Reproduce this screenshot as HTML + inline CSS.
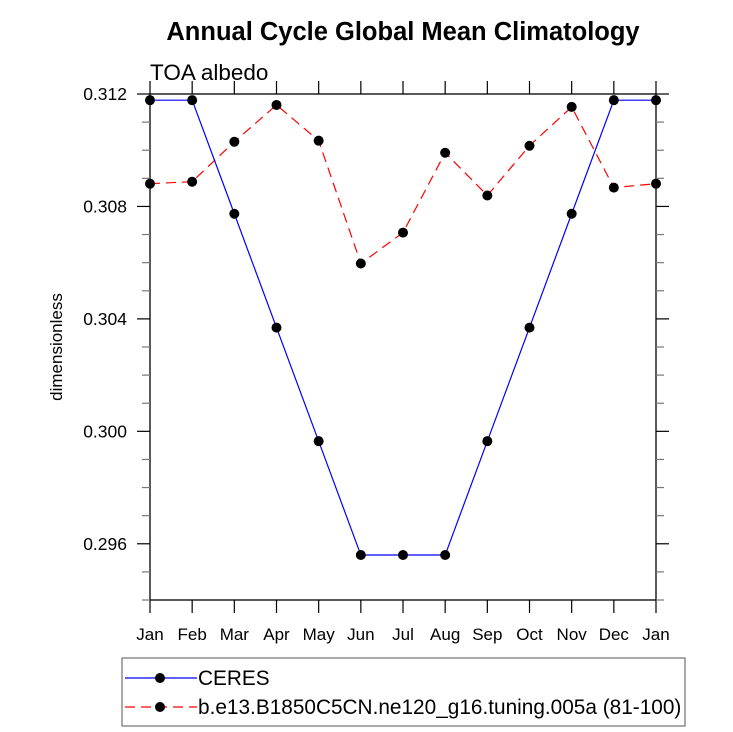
<!DOCTYPE html>
<html><head><meta charset="utf-8"><style>
body{margin:0;background:#fff}
svg{display:block;font-family:"Liberation Sans",Arial,sans-serif}
</style></head><body>
<svg id="c" width="733" height="732" viewBox="0 0 733 732">
<text x="403" y="40" text-anchor="middle" font-size="25.5" font-weight="bold">Annual Cycle Global Mean Climatology</text>
<text x="150" y="80" font-size="22.5">TOA albedo</text>
<text transform="translate(62,347) rotate(-90)" text-anchor="middle" font-size="17">dimensionless</text>
<g id="axes"></g>
<g id="series"></g>
<rect x="122" y="658" width="563" height="68" fill="none" stroke="#555" stroke-width="1"/>
<g>
<line x1="125" y1="678" x2="197" y2="678" stroke="#0000ff" stroke-width="1.2"/>
<circle cx="160" cy="678" r="5" fill="#000"/>
<text x="198" y="685" font-size="20.8">CERES</text></g>
<g>
<line x1="125" y1="707" x2="197" y2="707" stroke="#ff0000" stroke-width="1.2" stroke-dasharray="10,6"/>
<circle cx="160" cy="707" r="5" fill="#000"/>
<text x="198" y="714" font-size="20.8">b.e13.B1850C5CN.ne120_g16.tuning.005a (81-100)</text></g>
</svg>
<script>
const months=["Jan","Feb","Mar","Apr","May","Jun","Jul","Aug","Sep","Oct","Nov","Dec","Jan"];
const ceres=[0.31178,0.31178,0.30774,0.30369,0.29965,0.29560,0.29560,0.29560,0.29965,0.30369,0.30774,0.31178,0.31178];
const model=[0.30881,0.30888,0.31030,0.31161,0.31034,0.30597,0.30707,0.30991,0.30839,0.31016,0.31154,0.30867,0.30881];
const yTicks=[0.296,0.300,0.304,0.308,0.312];
const yMin=0.294,yMax=0.312;
const L=150,R=656,T=94,B=600;
const NS="http://www.w3.org/2000/svg";
const xs=i=>L+(R-L)*i/(months.length-1);
const ys=v=>B-(v-yMin)/(yMax-yMin)*(B-T);
function mk(tag,attrs,parent){const e=document.createElementNS(NS,tag);for(const k in attrs)e.setAttribute(k,attrs[k]);parent.appendChild(e);return e;}
const ax=document.getElementById('axes');
const frame=mk('rect',{x:L,y:T,width:R-L,height:B-T,fill:'none',stroke:'#000','stroke-width':1.3},ax);


months.forEach((m,i)=>{
  const x=xs(i);
  mk('line',{x1:x,y1:B,x2:x,y2:B+13,stroke:'#000','stroke-width':1.2},ax);
  mk('line',{x1:x,y1:T,x2:x,y2:T-13,stroke:'#000','stroke-width':1.2},ax);
  const t=mk('text',{x:x,y:B+40,'text-anchor':'middle','font-size':17},ax);
  t.textContent=m;
  
  
});
for(let v=yMin;v<=yMax+1e-9;v+=0.001){
  const y=ys(v);
  const major=yTicks.some(t=>Math.abs(t-v)<1e-7);
  const len=major?13:8;
  mk('line',{x1:L,y1:y,x2:L-len,y2:y,stroke:major?'#000':'#777','stroke-width':1.2},ax);
  mk('line',{x1:R,y1:y,x2:R+len,y2:y,stroke:major?'#000':'#777','stroke-width':1.2},ax);
}
yTicks.forEach(v=>{
  const t=mk('text',{x:127,y:ys(v)+6,'text-anchor':'end','font-size':17.5},ax);
  t.textContent=v.toFixed(3);
  
  
});
const sg=document.getElementById('series');
function draw(vals,color,dash,name){
  const g=mk('g',{},sg);
  
  
  const pl=mk('polyline',{points:vals.map((v,i)=>xs(i)+','+ys(v)).join(' '),fill:'none',stroke:color,'stroke-width':1.2},g);
  if(dash)pl.setAttribute('stroke-dasharray',dash);
  vals.forEach((v,i)=>{
    const c=mk('circle',{cx:xs(i),cy:ys(v),r:5,fill:'#000'},g);
    
    
  });
}
draw(model,'#ff0000','10,6','series-model');
draw(ceres,'#0000ff',null,'series-ceres');
</script>
</body></html>
